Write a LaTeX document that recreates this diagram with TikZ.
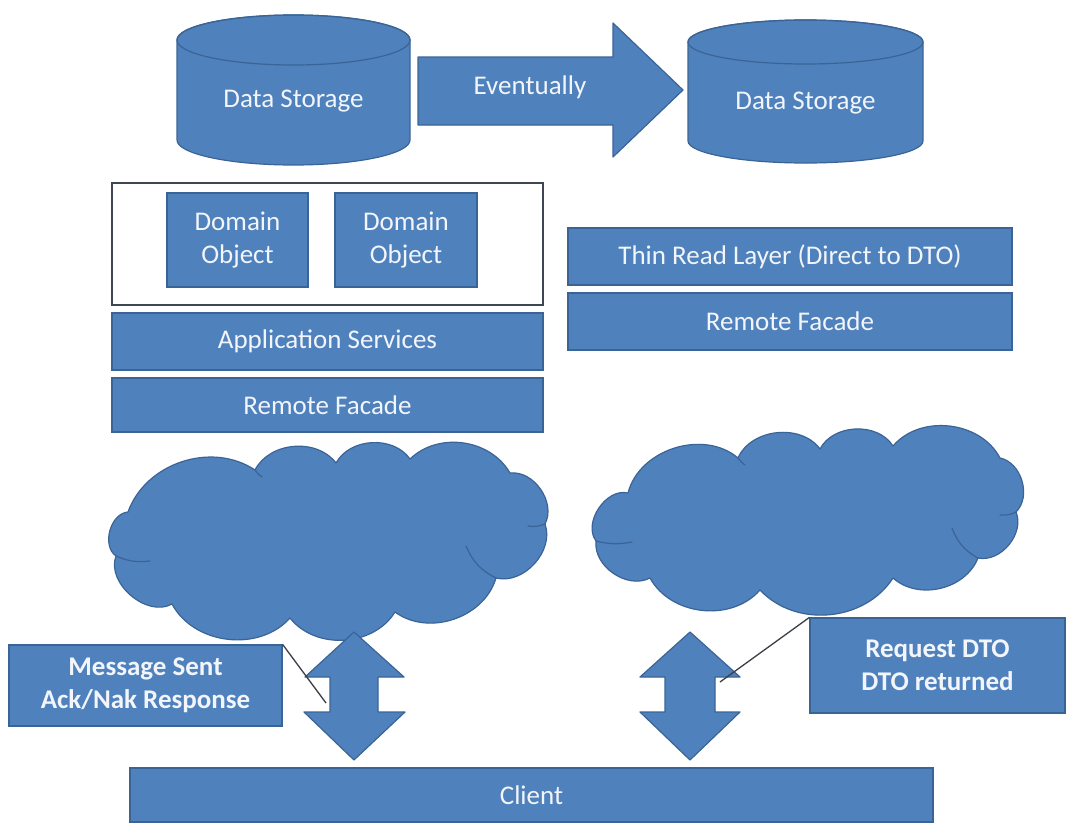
\documentclass[tikz,border=0pt]{standalone}
\usepackage{fontspec}
\setmainfont{Carlito}
\definecolor{boxfill}{HTML}{4F81BD}
\definecolor{boxline}{HTML}{3B6496}
\definecolor{txt}{HTML}{F2F5FA}
\definecolor{frameline}{HTML}{3E4656}
\definecolor{leader}{HTML}{3A3F47}
\tikzset{
  bluebox/.style={draw=boxline, fill=boxfill, line width=1.2pt, text=txt,
    font=\fontsize{27}{33}\selectfont, align=center, inner sep=0pt},
  boldbox/.style={bluebox, font=\fontsize{27}{33}\selectfont\bfseries},
  shapefill/.style={draw=boxline, fill=boxfill, line width=1.2pt, line join=round},
  innerstroke/.style={draw=boxline, line width=1.2pt, line cap=round},
  lbl/.style={text=txt, font=\fontsize{27}{33}\selectfont, align=center, inner sep=0pt},
  leaderline/.style={draw=leader, line width=1.3pt},
}
\begin{document}
\begin{tikzpicture}[x=1pt,y=-1pt]
\useasboundingbox[fill=white] (0,0) rectangle (1072,825);

% cylinders
\path[shapefill] (177,40) -- (177,140) arc[start angle=180,end angle=360,x radius=116.5pt,y radius=25pt]
  -- (410,40) arc[start angle=0,end angle=180,x radius=116.5pt,y radius=25pt] -- cycle;
\draw[draw=boxline, line width=1.2pt] (293.5,40) ellipse[x radius=116.5pt,y radius=25pt];
\node[lbl] (ds1) at (293.5,101) {Data Storage};

\path[shapefill] (688,42) -- (688,141) arc[start angle=180,end angle=360,x radius=117.5pt,y radius=22pt]
  -- (923,42) arc[start angle=0,end angle=180,x radius=117.5pt,y radius=22pt] -- cycle;
\draw[draw=boxline, line width=1.2pt] (805.5,42) ellipse[x radius=117.5pt,y radius=22pt];
\node[lbl] (ds2) at (805.5,103) {Data Storage};

% big arrow
\path[shapefill] (418,57) -- (613,57) -- (613,23) -- (683,90) -- (613,157) -- (613,125) -- (418,125) -- cycle;
\node[lbl] (ev) at (530,87) {Eventually};

% left stack
\node[draw=frameline, line width=2pt, fill=white, minimum width=431pt, minimum height=122pt, inner sep=0pt] (frame) at (327.5,244) {};
\node[bluebox, minimum width=141pt, minimum height=94pt] (do1) at (237.5,240) {Domain\\Object};
\node[bluebox, minimum width=142pt, minimum height=94pt] (do2) at (406,240) {Domain\\Object};
\node[bluebox, minimum width=431pt, minimum height=57pt] (app) at (327.5,341.5) {Application Services};
\node[bluebox, minimum width=431pt, minimum height=54pt] (rfl) at (327.5,405) {Remote Facade};

% right stack
\node[bluebox, minimum width=444pt, minimum height=57pt] (thin) at (790,256.5) {Thin Read Layer (Direct to DTO)};
\node[bluebox, minimum width=444pt, minimum height=57pt] (rfr) at (790,321.5) {Remote Facade};

% left cloud
\path[shapefill] (116,556) to[bend left=70] (128,512) to[bend left=52] (255,470)
  to[bend left=58] (336,463) to[bend left=58] (410,459) to[bend left=52] (510,473)
  to[bend left=62] (545,524) to[bend left=62] (496,578) to[bend left=55] (395,612)
  to[bend left=55] (290,618) to[bend left=55] (172,604) to[bend left=70] (116,556) -- cycle;
\draw[innerstroke] (116,556) to[bend right=15] (150,561);
\draw[innerstroke] (545,524) to[bend left=15] (528,526);
\draw[innerstroke] (496,578) to[bend left=20] (466,546);
\draw[innerstroke] (255,470) to[bend right=10] (262,477);

% right cloud
\path[shapefill] (596,541) to[bend left=70] (628,493) to[bend left=58] (738,458)
  to[bend left=60] (820,449) to[bend left=60] (893,446) to[bend left=56] (1000,458)
  to[bend left=62] (1016,512) to[bend left=62] (978,558) to[bend left=55] (893,578)
  to[bend left=52] (760,590) to[bend left=55] (650,578) to[bend left=62] (596,541) -- cycle;
\draw[innerstroke] (596,541) to[bend right=12] (632,542);
\draw[innerstroke] (978,558) to[bend left=20] (952,528);
\draw[innerstroke] (1016,512) to[bend left=15] (1000,515);
\draw[innerstroke] (738,458) to[bend right=10] (745,465);

% client
\node[bluebox, minimum width=803pt, minimum height=54pt] (client) at (531.5,795) {Client};

% double arrows
\path[shapefill] (354,632) -- (404,677) -- (378,677) -- (378,712) -- (405,712) -- (354,760)
  -- (304,712) -- (330,712) -- (330,677) -- (305,677) -- cycle;
\path[shapefill] (690,632) -- (740,677) -- (715,677) -- (715,712) -- (740,712) -- (690,760)
  -- (640,712) -- (665,712) -- (665,677) -- (640,677) -- cycle;

% callouts
\node[boldbox, minimum width=273pt, minimum height=81pt] (msg) at (145.5,685.5) {Message Sent\\Ack/Nak Response};
\node[boldbox, minimum width=255pt, minimum height=95pt] (req) at (937.5,665.5) {Request DTO\\DTO returned};
\coordinate (lp) at (326,703);
\coordinate (rp) at (720,682);
\draw[leaderline] (msg.north east) -- (lp);
\draw[leaderline] (req.north west) -- (rp);
\end{tikzpicture}
\end{document}
